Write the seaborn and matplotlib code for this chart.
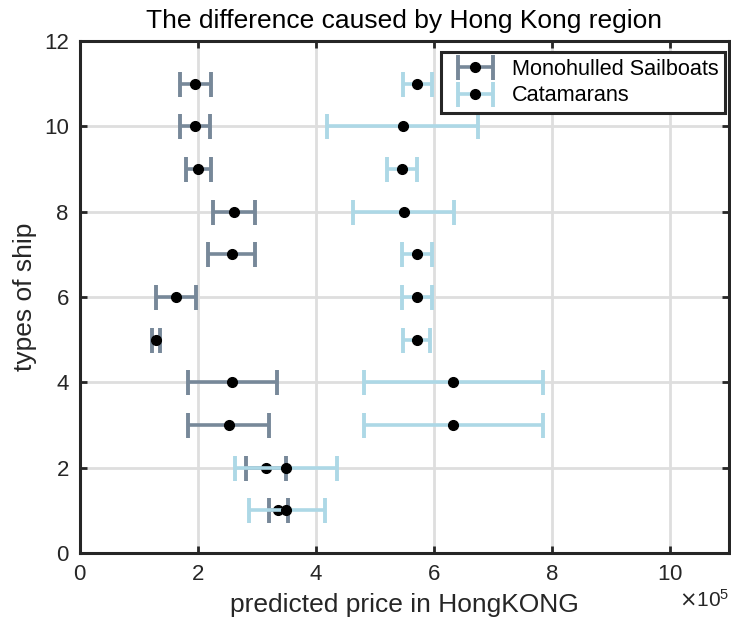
import seaborn as sns
import matplotlib.pyplot as plt
import numpy as np
from matplotlib.container import ErrorbarContainer
from matplotlib.legend_handler import HandlerErrorbar

# ship type index on the y axis
ship_types = [1, 2, 3, 4, 5, 6, 7, 8, 9, 10, 11]

# predicted prices (HKD)
mono_price = [336000, 316000, 252000, 258000, 129000, 162000, 257000, 261000, 200500, 194800, 195400]
mono_low = [320000, 281000, 183000, 183000, 121600, 129000, 217000, 225000, 180000, 169400, 169400]
mono_high = [352000, 350000, 320000, 334000, 136000, 196500, 296000, 296000, 222000, 220000, 222500]

cat_price = [350000, 349000, 633000, 633000, 571000, 571000, 571000, 549000, 546000, 547000, 571000]
cat_low = [286000, 262000, 482000, 482000, 548000, 546000, 546000, 463000, 521000, 419000, 548000]
cat_high = [415000, 435000, 784000, 784000, 594000, 596000, 596000, 634000, 571000, 674500, 596000]

sns.set_theme(style="whitegrid")
plt.rcParams['font.family'] = ['Liberation Sans', 'DejaVu Sans']

dark = "#262626"

fig, ax = plt.subplots(figsize=(7.31, 6.23), dpi=100)
fig.subplots_adjust(left=0.1094, right=0.9973, top=0.9342, bottom=0.1124)

def draw(price, low, high, color, label, z):
    price = np.array(price)
    err = [price - np.array(low), np.array(high) - price]
    ax.errorbar(price, ship_types, xerr=err, fmt='o', color='black',
                markersize=7, markeredgecolor='black', ecolor=color,
                elinewidth=2.6, capsize=9, capthick=2.8, label=label, zorder=z)

draw(mono_price, mono_low, mono_high, "lightslategray", "Monohulled Sailboats", 2)
draw(cat_price, cat_low, cat_high, "lightblue", "Catamarans", 3)

ax.set_xlim(0, 11e5)
ax.set_ylim(0, 12)
ax.set_xticks(np.arange(0, 11e5, 2e5))
ax.set_yticks(np.arange(0, 13, 2))
ax.ticklabel_format(axis='x', style='sci', scilimits=(5, 5), useMathText=True)
ax.xaxis.get_offset_text().set_fontsize(15)
ax.xaxis.get_offset_text().set_color(dark)

ax.grid(True, color="#dedede", linewidth=2)
for s in ax.spines.values():
    s.set_visible(True)
    s.set_color(dark)
    s.set_linewidth(2.2)

ax.tick_params(axis='both', which='major', direction='in', length=5, width=2,
               color=dark, labelcolor=dark, labelsize=16, pad=8,
               top=True, right=True, bottom=True, left=True)

ax.set_title("The difference caused by Hong Kong region", fontsize=19, color='black', pad=9)
ax.set_xlabel("predicted price in HongKONG", fontsize=19, color=dark, labelpad=6)
ax.set_ylabel("types of ship", fontsize=19, color=dark, labelpad=5)

leg = ax.legend(loc='upper right', bbox_to_anchor=(0.994, 0.978), borderaxespad=0,
                fontsize=15.6, fancybox=False, framealpha=1, edgecolor=dark,
                handlelength=2.6, handletextpad=0.4, labelspacing=0.25, borderpad=0.3,
                handler_map={ErrorbarContainer: HandlerErrorbar(xerr_size=0.8)})
leg.get_frame().set_linewidth(2.2)
for t in leg.get_texts():
    t.set_color('black')

plt.savefig("out.png", dpi=100)
